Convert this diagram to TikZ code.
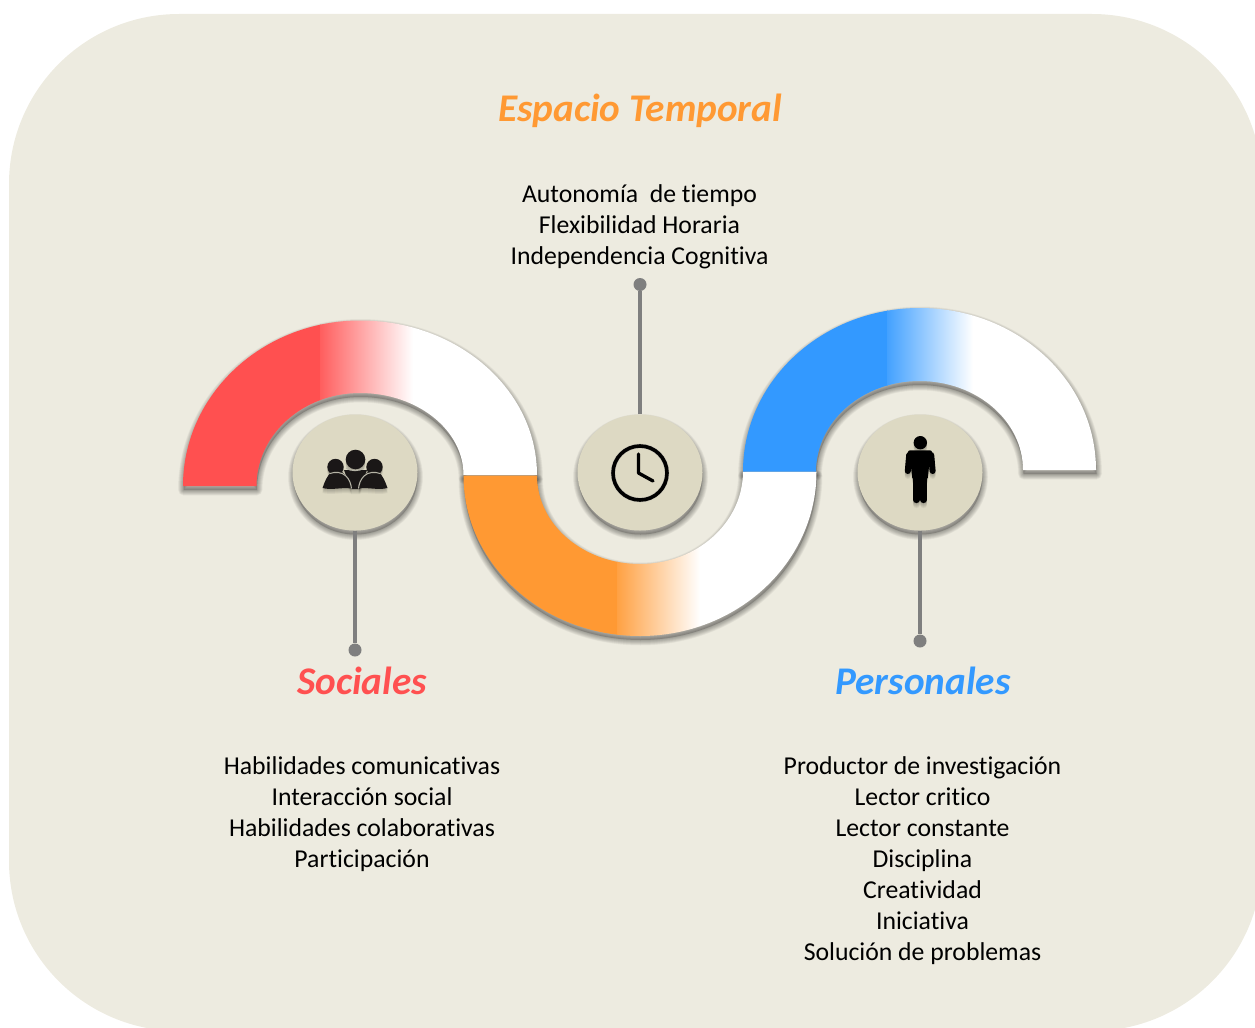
\documentclass[tikz,border=0pt]{standalone}
\usepackage{fontspec}
\setmainfont[Ligatures=NoCommon]{Carlito}
\usetikzlibrary{shapes.geometric}
\definecolor{panel}{HTML}{EDEBE0}
\definecolor{hubfill}{HTML}{DDD9C3}
\definecolor{stemgray}{HTML}{7F7F7F}
\definecolor{redband}{HTML}{FF5050}
\definecolor{orangeband}{HTML}{FF9933}
\definecolor{blueband}{HTML}{3399FF}
\definecolor{iconblack}{HTML}{1A1717}
\definecolor{iconline}{HTML}{B5B3A6}
\newcommand\archpath[7]{% cx, Rx, rx, outer apex y, inner apex y, left y, right y
  ({#1-#2},#6) .. controls ({#1-#2},{#6+.5523*(#4-#6)}) and ({#1-.5523*#2},#4) .. (#1,#4)
  .. controls ({#1+.5523*#2},#4) and ({#1+#2},{#7+.5523*(#4-#7)}) .. ({#1+#2},#7)
  -- ({#1+#3},#7) .. controls ({#1+#3},{#7+.5523*(#5-#7)}) and ({#1+.5523*#3},#5) .. (#1,#5)
  .. controls ({#1-.5523*#3},#5) and ({#1-#3},{#6+.5523*(#5-#6)}) .. ({#1-#3},#6) -- cycle}
\newcommand\softshadow[1]{%
  \begin{scope}[shift={(.5,4)}]
  \path[fill=black,fill opacity=.18] #1;
  \foreach \w in {11,10,9,8,7,6,5,4,3,2,1}{
    \path[draw=black,draw opacity=.03,line width=\w*.75pt,line join=round] #1;
  }
  \end{scope}}
\newcommand\peopleicon{%
  \fill (355.5,459.5) circle[radius=9.8];
  \fill (335.5,467) circle[radius=8.2];
  \fill (374.5,467) circle[radius=8.2];
  \fill (344,470) -- (367,470) -- (360,489) -- (351,489) -- cycle;
  \fill (322.5,488) .. controls (325,481) and (327,476) .. (331,472.5) -- (342,472) .. controls (347,476) and (351,482) .. (351.5,488.5) .. controls (341,487) and (332,490.5) .. (322.5,488) -- cycle;
  \fill (387.5,488) .. controls (385,481) and (383,476) .. (379,472.5) -- (368,472) .. controls (363,476) and (359,482) .. (358.5,488.5) .. controls (369,487) and (378,490.5) .. (387.5,488) -- cycle;}
\newcommand\personicon{%
  \fill (920.3,442.7) circle[radius=6.7];
  \fill[rounded corners=1.5] (908,450.3) -- (932,450.3) -- (932,458) -- (930,458) -- (927.5,480) -- (912.5,480) -- (910,458) -- (908,458) -- cycle;
  \draw[line width=4.5pt,line cap=round] (909.2,455) -- (907.8,471);
  \draw[line width=4.5pt,line cap=round] (931.2,455) -- (932.6,471);
  \draw[line width=5pt,line cap=round] (916.4,476) -- (916.4,499.8);
  \draw[line width=5pt,line cap=round] (923.6,476) -- (923.6,499.8);}
\tikzset{
  hub/.style={ellipse,fill=hubfill,minimum width=125*.75pt,minimum height=116*.75pt,inner sep=0pt},
  enddot/.style={circle,fill=stemgray,minimum size=13*.75pt,inner sep=0pt},
  stem/.style={draw=stemgray,line width=2.7pt},
  iconarc/.style={draw=iconline,line width=.8pt},
  bodytext/.style={align=center,font=\fontsize{19.3}{23.25}\selectfont,text=black,inner sep=0pt},
  headtext/.style={font=\fontsize{29.4}{34}\selectfont\bfseries\itshape,inner sep=0pt},
}
\begin{document}
\begin{tikzpicture}[x=.75pt,y=-.75pt]
\useasboundingbox (0,0) rectangle (1255,1027);
\begin{scope}
\clip (0,0) rectangle (1255,1027);
\fill[panel,rounded corners=127.5pt] (9,14) rectangle (1262,1031);
\end{scope}

% shadows of bands
\softshadow{\archpath{360}{177}{103.5}{320.5}{393}{486}{475}}
\softshadow{\archpath{640}{176.5}{103}{636}{564}{475.5}{471.5}}
\softshadow{\archpath{919.5}{176.5}{103.5}{308}{381}{471.5}{470}}

% red band
\begin{scope}
\clip \archpath{360}{177}{103.5}{320.5}{393}{486}{475};
\fill[redband] (170,300) rectangle (321,500);
\shade[left color=redband!92!white,right color=white] (320,300) rectangle (413,500);
\fill[white] (412.5,300) rectangle (550,500);
\end{scope}
% orange band
\begin{scope}
\clip \archpath{640}{176.5}{103}{636}{564}{475.5}{471.5};
\fill[orangeband] (450,460) rectangle (618,650);
\shade[left color=orangeband!92!white,right color=white] (617,460) rectangle (700,650);
\fill[white] (699.5,460) rectangle (830,650);
\end{scope}
% blue band
\begin{scope}
\clip \archpath{919.5}{176.5}{103.5}{308}{381}{471.5}{470};
\fill[blueband] (730,295) rectangle (888,480);
\shade[left color=blueband!92!white,right color=white] (887,295) rectangle (973,480);
\fill[white] (972.5,295) rectangle (1110,480);
\end{scope}

% hub shadows
\foreach \cx in {355,640,920}{
  \softshadow{(\cx,473) ellipse[x radius=62,y radius=57.5]}
}

% hubs, dots, stems
\node[hub] (sochub) at (355,472.5) {};
\node[hub] (temphub) at (640,472.5) {};
\node[hub] (perhub) at (920,472.5) {};
\node[enddot] (socdot) at (355,650) {};
\node[enddot] (tempdot) at (640,284.5) {};
\node[enddot] (perdot) at (920,641) {};
\draw[stem] (sochub) -- (socdot);
\draw[stem] (temphub) -- (tempdot);
\draw[stem] (perhub) -- (perdot);

% icon shadows
\foreach \o in {1,2,3,4,5}{
  \begin{scope}[opacity=.05,shift={(0,\o)}]\peopleicon\personicon\end{scope}
}
% icons
\begin{scope}[iconblack]\peopleicon\end{scope}
\draw[iconarc] (330,473.5) .. controls (335,471.5) and (342,472) .. (346,476) .. controls (349.5,479.5) and (351,484) .. (351.5,488.5);
\draw[iconarc] (380,473.5) .. controls (375,471.5) and (368,472) .. (364,476) .. controls (360.5,479.5) and (359,484) .. (358.5,488.5);
\draw[iconarc] (346,468) .. controls (350,471.5) and (360,471.5) .. (364,468);
\begin{scope}[black]\personicon\end{scope}
\draw[black!40,opacity=.35,line width=3.5pt] (640,473) circle[radius=27];
\draw[black,line width=2.7pt] (640,473) circle[radius=27];
\draw[black,line width=2.5pt,line cap=round,line join=round] (638.5,454) -- (638.5,473) -- (653,481);

% text
\node[headtext,text=orangeband] (temptitle) at (640,111) {Espacio Temporal};
\node[bodytext,anchor=north] (templist) at (639.5,184) {Autonomía\ \ de tiempo\\Flexibilidad Horaria\\Independencia Cognitiva};
\node[headtext,text=redband] (soctitle) at (362,681) {Sociales};
\node[bodytext,anchor=north] (soclist) at (362,756) {Habilidades comunicativas\\Interacción social\\Habilidades colaborativas\\Participación};
\node[headtext,text=blueband] (pertitle) at (923,681) {Personales};
\node[bodytext,anchor=north] (perlist) at (922.5,756) {Productor de investigación\\Lector critico\\Lector constante\\Disciplina\\Creatividad\\Iniciativa\\Solución de problemas};
\end{tikzpicture}
\end{document}
